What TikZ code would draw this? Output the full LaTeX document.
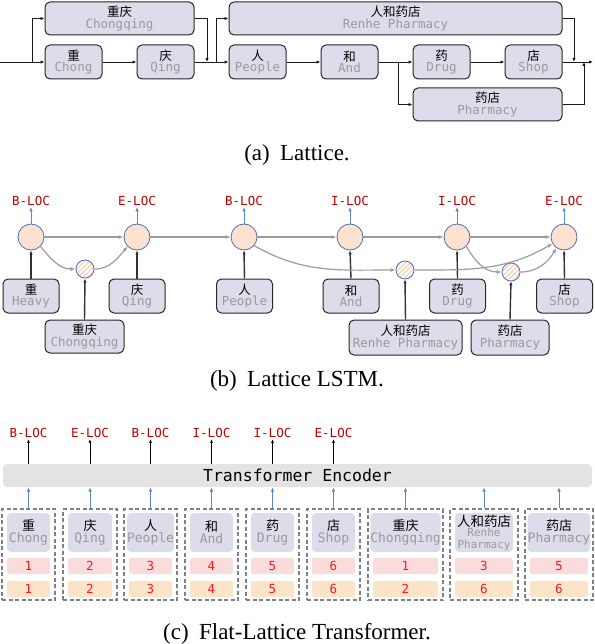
\documentclass[tikz,border=0pt]{standalone}
\usepackage{fontspec}
\setmainfont{Liberation Serif}
\newfontfamily\cjk{Noto Sans CJK SC}
\newfontfamily\mono{DejaVu Sans Mono}
\usetikzlibrary{arrows.meta,patterns.meta}
\definecolor{lav}{HTML}{DCDCEA}
\definecolor{subg}{HTML}{9A9A9A}
\definecolor{peach}{HTML}{FCE2CF}
\definecolor{cblue}{HTML}{4A6FB5}
\definecolor{ablue}{HTML}{5B87CF}
\definecolor{lred}{HTML}{C00000}
\definecolor{nred}{HTML}{FF1A1A}
\definecolor{pinkb}{HTML}{FADCDC}
\definecolor{orb}{HTML}{FBE4C8}
\definecolor{encg}{HTML}{E3E3E3}
\definecolor{hatchc}{HTML}{F9CBAE}
\definecolor{garr}{HTML}{9C9C9C}
\newcommand\wb[2]{{\cjk #1}\\[-1.5pt]{\mono\color{subg}#2}}
\newcommand\capsep{\hskip 0.45em}
\begin{document}
\begin{tikzpicture}[x=1pt,y=-1pt,
  wbox/.style={draw=black!85,line width=1pt,fill=lav,rounded corners=5pt,inner sep=0pt,
    align=center,font=\fontsize{12.5}{13}\selectfont},
  arr/.style={-{Latex[length=4pt,width=3.4pt]},line width=0.9pt,draw=black!90},
  plain/.style={line width=0.9pt,draw=black!90},
  lab/.style={font=\mono\fontsize{12.5}{13}\selectfont,text=lred,inner sep=1pt},
  cell/.style={circle,draw=cblue,fill=peach,line width=0.8pt,minimum size=26pt,inner sep=0pt},
  hcell/.style={circle,draw=cblue,line width=0.8pt,minimum size=18pt,inner sep=0pt,
    pattern={Lines[angle=45,distance=3.4pt,line width=1.1pt]},pattern color=hatchc},
  garrow/.style={-{Latex[length=5pt,width=4pt]},line width=1.2pt,draw=garr},
  barrow/.style={-{Latex[length=4.5pt,width=3.6pt]},line width=1pt,draw=ablue},
  karrow/.style={-{Latex[length=4pt,width=3.4pt]},line width=1.4pt,draw=black!80},
  tarrow/.style={-{Latex[length=4pt,width=3pt]},line width=0.8pt,draw=black},
  grp/.style={draw=black!50,dash pattern=on 4pt off 2.5pt,line width=1.2pt,inner sep=0pt,minimum height=91pt},
  tok/.style={fill=lav,rounded corners=4pt,inner sep=0pt,align=center,minimum height=39pt,
    font=\fontsize{13}{13.5}\selectfont},
  pk/.style={fill=pinkb,rounded corners=2pt,inner sep=0pt,minimum height=16pt,text=nred,
    font=\mono\fontsize{12.5}{13}\selectfont},
  ob/.style={fill=orb,rounded corners=2pt,inner sep=0pt,minimum height=16pt,text=nred,
    font=\mono\fontsize{12.5}{13}\selectfont},
  capt/.style={font=\fontsize{23}{26}\selectfont,anchor=base,inner sep=0pt}
]
\useasboundingbox (0,0) rectangle (594,644);
% ---------------- (a) Lattice ----------------
\node[wbox,minimum width=149pt,minimum height=33pt] (a12) at (119.5,18.5) {\wb{重庆}{Chongqing}};
\node[wbox,minimum width=57pt,minimum height=34pt] (a1) at (73.5,62) {\wb{重}{Chong}};
\node[wbox,minimum width=57pt,minimum height=34pt] (a2) at (165.5,62) {\wb{庆}{Qing}};
\node[wbox,minimum width=57pt,minimum height=34pt] (a3) at (257.5,62) {\wb{人}{People}};
\node[wbox,minimum width=57pt,minimum height=34pt] (a4) at (349.5,62) {\wb{和}{And}};
\node[wbox,minimum width=57pt,minimum height=34pt] (a5) at (441.5,62) {\wb{药}{Drug}};
\node[wbox,minimum width=57pt,minimum height=34pt] (a6) at (533.5,62) {\wb{店}{Shop}};
\node[wbox,minimum width=333pt,minimum height=33pt] (a36) at (395.5,18.5) {\wb{人和药店}{Renhe Pharmacy}};
\node[wbox,minimum width=149pt,minimum height=33pt] (a56) at (487.5,104.5) {\wb{药店}{Pharmacy}};
\coordinate (ain) at (0,62);
\coordinate (aj1) at (32,62);
\coordinate (am1) at (207,62);
\coordinate (aj2) at (216,62);
\coordinate (aj3) at (398,62);
\coordinate (am2) at (574,62);
\coordinate (am3) at (584,62);
\coordinate (aout) at (593,62);
\draw[plain] (ain) -- (aj1);
\draw[arr] (aj1) |- (a12.west);
\draw[arr] (aj1) -- (a1.west);
\draw[arr] (a1) -- (a2);
\draw[arr] (a12.east) -| (am1);
\draw[arr] (a2) -- (a3);
\draw[arr] (aj2) |- (a36.west);
\draw[arr] (a3) -- (a4);
\draw[arr] (a4) -- (a5);
\draw[arr] (aj3) |- (a56.west);
\draw[arr] (a5) -- (a6);
\draw[arr] (a36.east) -| (am2);
\draw[arr] (a56.east) -| (am3);
\draw[arr] (a6) -- (aout);
\node[capt] (capa) at (297,161) {(a)\capsep Lattice.};
% ---------------- (b) Lattice LSTM ----------------
\foreach \n/\x/\t in {1/31/B-LOC,2/137/E-LOC,3/244/B-LOC,4/350/I-LOC,5/457/I-LOC,6/564/E-LOC}{
  \node[cell] (c\n) at (\x,237) {};
  \node[lab] (bl\n) at (\x,201) {\t};
  \draw[barrow] (c\n.north) -- (bl\n.south);
}
\node[hcell] (h1) at (85,269) {};
\node[hcell] (h2) at (405,270) {};
\node[hcell] (h3) at (511,272) {};
\node[wbox,minimum width=56pt,minimum height=34pt] (b1) at (31,296) {\wb{重}{Heavy}};
\node[wbox,minimum width=56pt,minimum height=34pt] (b2) at (137,296) {\wb{庆}{Qing}};
\node[wbox,minimum width=56pt,minimum height=34pt] (b3) at (244.5,296) {\wb{人}{People}};
\node[wbox,minimum width=56pt,minimum height=34pt] (b4) at (351,296) {\wb{和}{And}};
\node[wbox,minimum width=56pt,minimum height=34pt] (b5) at (457.5,296) {\wb{药}{Drug}};
\node[wbox,minimum width=56pt,minimum height=34pt] (b6) at (564.5,296) {\wb{店}{Shop}};
\node[wbox,minimum width=79pt,minimum height=33pt] (b12) at (84.5,336.5) {\wb{重庆}{Chongqing}};
\node[wbox,minimum width=113pt,minimum height=35pt] (b36) at (405.5,337.5) {\wb{人和药店}{Renhe Pharmacy}};
\node[wbox,minimum width=78pt,minimum height=35pt] (b56) at (510,337.5) {\wb{药店}{Pharmacy}};
\foreach \n in {1,...,6}{\draw[karrow] (b\n.north) -- (c\n.south);}
\draw[karrow] (b12.north) -- (h1.south);
\draw[karrow] (b36.north) -- (h2.south);
\draw[karrow] (b56.north) -- (h3.south);
\draw[garrow] (c1) -- (c2);
\draw[garrow] (c2) -- (c3);
\draw[garrow] (c3) -- (c4);
\draw[garrow] (c4) -- (c5);
\draw[garrow] (c5) -- (c6);
\draw[garrow] (c1.-45) to[out=-50,in=180] (h1.west);
\draw[garrow] (h1.east) to[out=0,in=-130] (c2.-135);
\draw[garrow] (c3.-40) to[out=-30,in=180] (h2.west);
\draw[garrow] (h2.east) to[out=0,in=-150] (c6.-150);
\draw[garrow] (c5.-45) to[out=-60,in=180] (h3.west);
\draw[garrow] (h3.east) to[out=0,in=-120] (c6.-125);
\node[capt] (capb) at (297,386) {(b)\capsep Lattice LSTM.};
% ---------------- (c) Flat-Lattice Transformer ----------------
\node[fill=encg,rounded corners=4pt,minimum width=589pt,minimum height=23pt,inner sep=0pt,
  font=\mono\fontsize{16.5}{18}\selectfont] (enc) at (297.5,475.5) {Transformer Encoder};
\foreach \n/\cx/\gw/\zh/\en/\p/\o in {1/28.5/53/重/Chong/1/1,2/90/54/庆/Qing/2/2,3/150.5/53/人/People/3/3,
  4/211.5/53/和/And/4/4,5/272.5/53/药/Drug/5/5,6/333.5/53/店/Shop/6/6,7/405.5/75/重庆/Chongqing/1/2,
  9/559/68/药店/Pharmacy/5/6}{
  \node[grp,minimum width=\gw pt] (g\n) at (\cx,554.5) {};
  \node[tok,minimum width=\gw pt-10pt] (t\n) at (\cx,532.5) {\wb{\zh}{\en}};
  \node[pk,minimum width=\gw pt-10pt] (p\n) at (\cx,566) {\p};
  \node[ob,minimum width=\gw pt-10pt] (o\n) at (\cx,589) {\o};
}
\node[grp,minimum width=68pt] (g8) at (484,554.5) {};
\node[tok,minimum width=58pt] (t8) at (484,532.5)
  {{\cjk\fontsize{13.5}{14}\selectfont 人和药店}\\[-3pt]{\mono\fontsize{11}{12}\selectfont\color{subg}Renhe}\\[-2pt]{\mono\fontsize{11}{12}\selectfont\color{subg}Pharmacy}};
\node[pk,minimum width=58pt] (p8) at (484,566) {3};
\node[ob,minimum width=58pt] (o8) at (484,589) {6};
\foreach \n in {1,...,9}{\draw[barrow] (g\n.north) -- (g\n.north |- enc.south);}
\foreach \n/\t in {1/B-LOC,2/E-LOC,3/B-LOC,4/I-LOC,5/I-LOC,6/E-LOC}{
  \node[lab] (cl\n) at (g\n.north |- 0,433) {\t};
  \draw[tarrow] (cl\n.south |- enc.north) -- (cl\n.south);
}
\node[capt] (capc) at (297,639) {(c)\capsep Flat-Lattice Transformer.};
\end{tikzpicture}
\end{document}
